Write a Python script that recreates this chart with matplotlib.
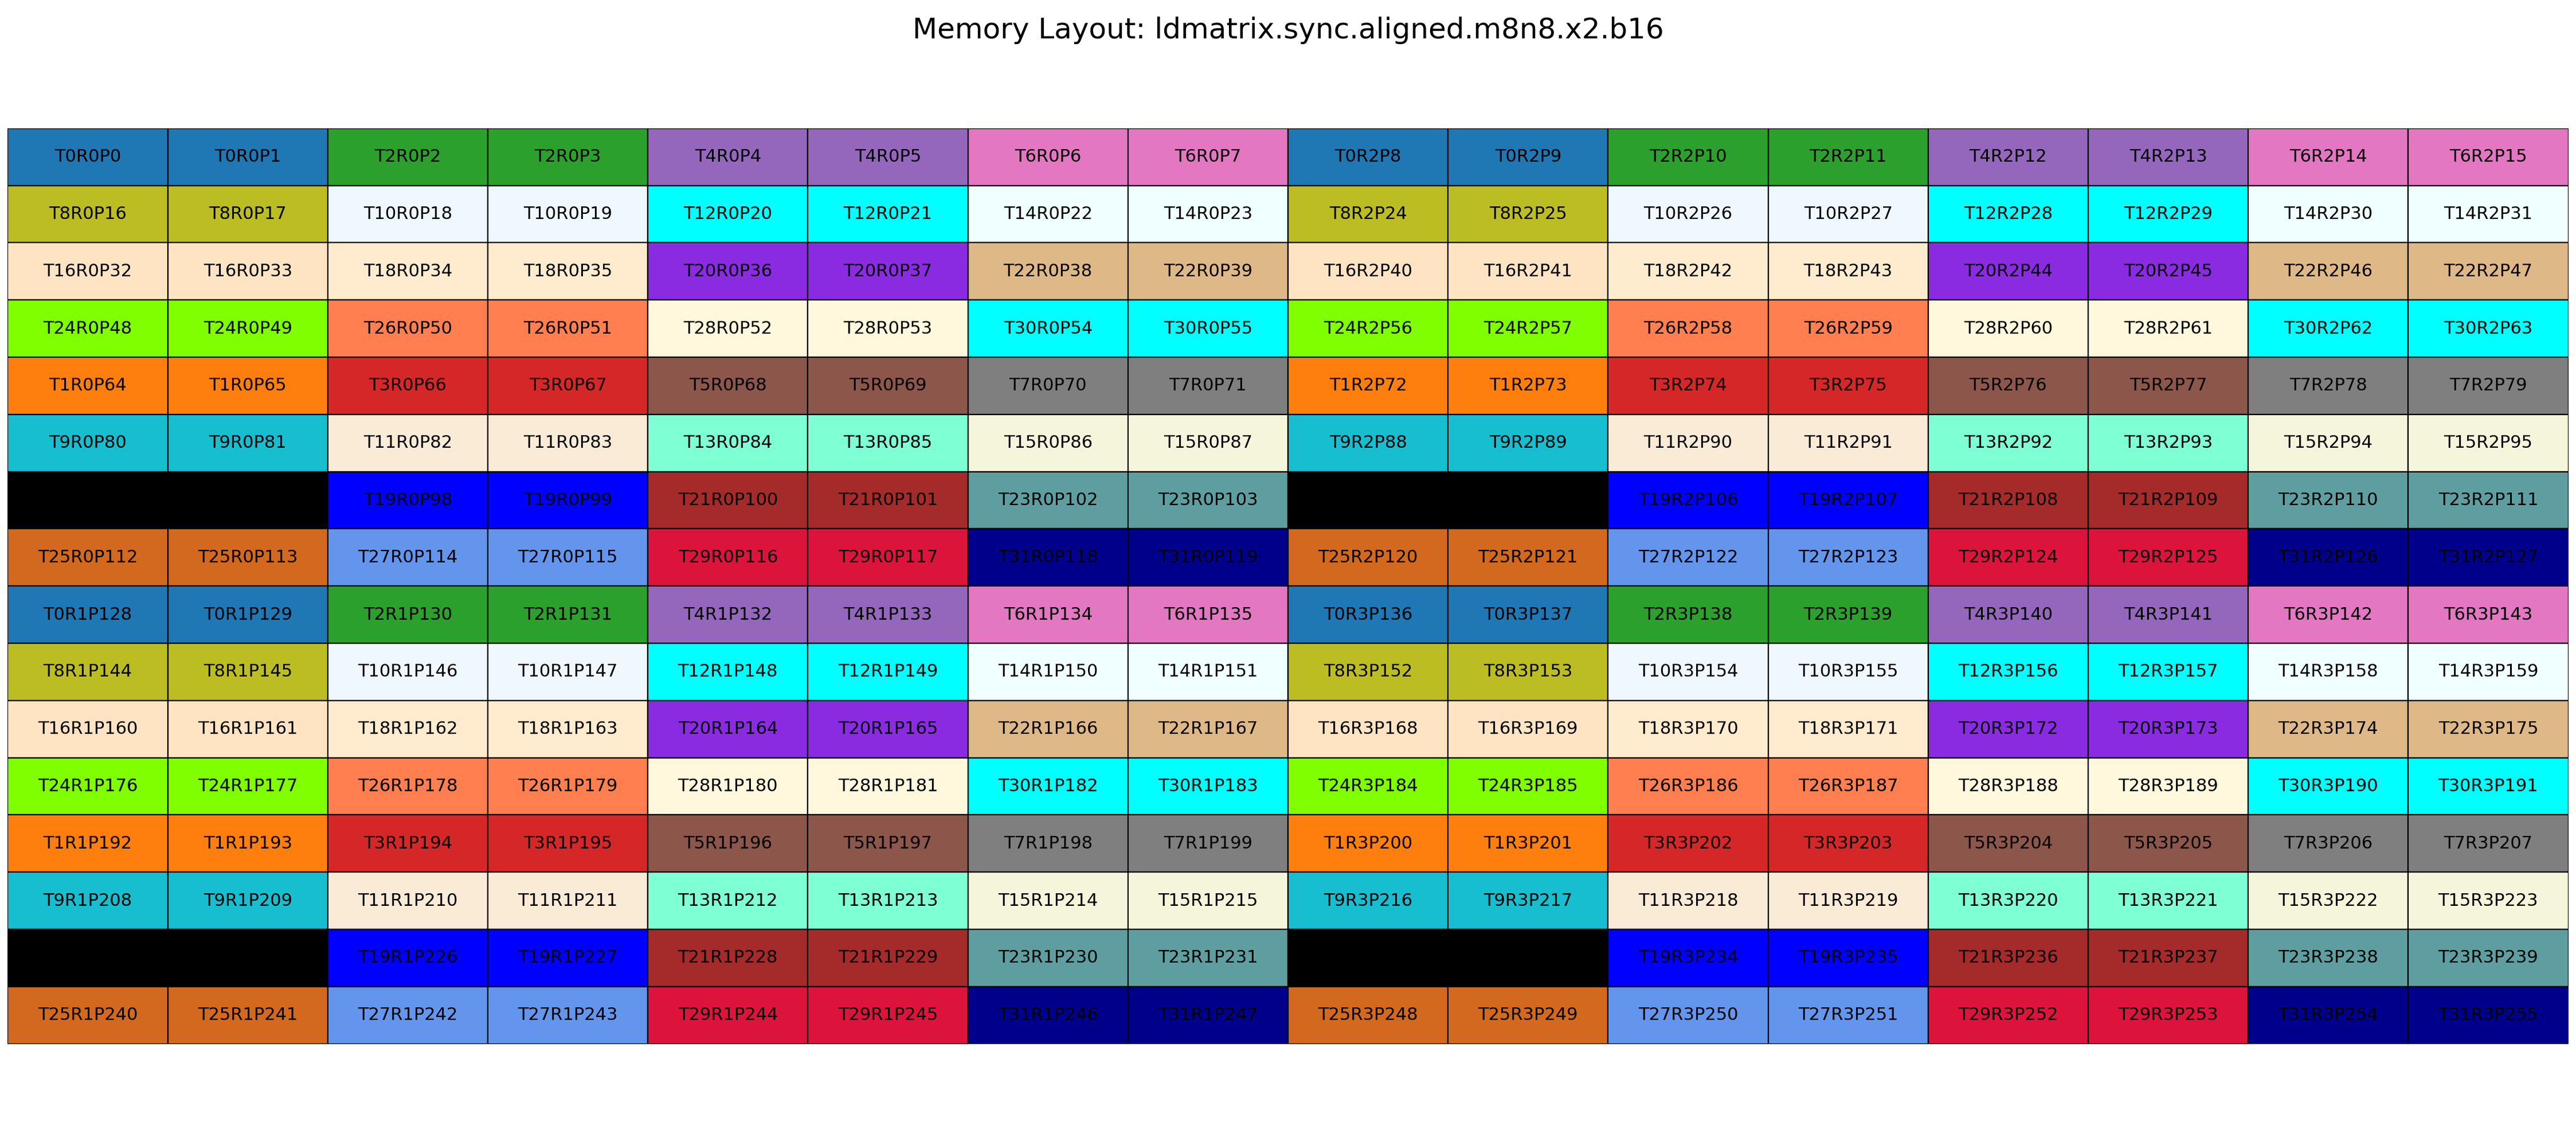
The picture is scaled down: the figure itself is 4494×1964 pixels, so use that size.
import matplotlib
matplotlib.use("Agg")
import matplotlib.pyplot as plt
from matplotlib.patches import Rectangle

title = "Memory Layout: ldmatrix.sync.aligned.m8n8.x2.b16"

# thread id for each cell of one 8x8 tile
thread_tile = [
    [0, 0, 2, 2, 4, 4, 6, 6],
    [8, 8, 10, 10, 12, 12, 14, 14],
    [16, 16, 18, 18, 20, 20, 22, 22],
    [24, 24, 26, 26, 28, 28, 30, 30],
    [1, 1, 3, 3, 5, 5, 7, 7],
    [9, 9, 11, 11, 13, 13, 15, 15],
    [17, 17, 19, 19, 21, 21, 23, 23],
    [25, 25, 27, 27, 29, 29, 31, 31],
]
# register id per tile (tile row, tile col)
register_tile = [[0, 2], [1, 3]]

thread_colors = [
    "tab:blue", "tab:orange", "tab:green", "tab:red", "tab:purple",
    "tab:brown", "tab:pink", "tab:gray", "tab:olive", "tab:cyan",
    "aliceblue", "antiquewhite", "aqua", "aquamarine", "azure", "beige",
    "bisque", "black", "blanchedalmond", "blue", "blueviolet", "brown",
    "burlywood", "cadetblue", "chartreuse", "chocolate", "coral",
    "cornflowerblue", "cornsilk", "crimson", "cyan", "darkblue",
]

n_rows, n_cols = 16, 16

fig = plt.figure(figsize=(22.47, 9.82), dpi=200)
ax = fig.add_axes([0.003, 0.073, 0.994, 0.813])
for i in range(n_rows):
    for j in range(n_cols):
        t = thread_tile[i % 8][j % 8]
        r = register_tile[i // 8][j // 8]
        p = i * n_cols + j
        ax.add_patch(Rectangle((j, i), 1, 1, facecolor=thread_colors[t],
                               edgecolor="black", linewidth=0.8))
        ax.text(j + 0.5, i + 0.5, f"T{t}R{r}P{p}", ha="center", va="center",
                fontsize=11, color="black")
ax.set_xlim(0, n_cols)
ax.set_ylim(n_rows, 0)
ax.axis("off")
fig.suptitle(title, fontsize=18, y=0.985)
fig.savefig("out.png", dpi=200)
